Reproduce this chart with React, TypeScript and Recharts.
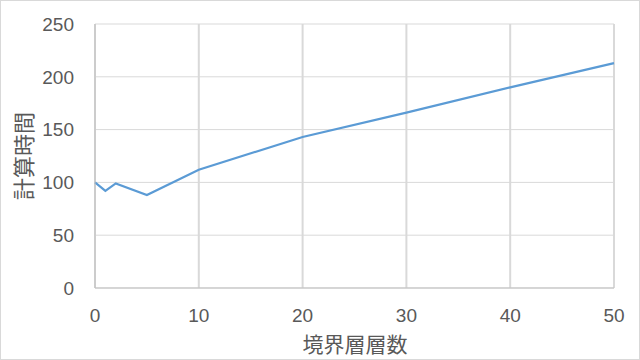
import React from "react";
import {
  LineChart,
  Line,
  XAxis,
  YAxis,
  CartesianGrid,
} from "recharts";

const layers = [0, 1, 2, 5, 10, 20, 30, 40, 50];
const times = [100, 92, 99, 88, 112, 143, 166, 190, 213];
const xTicks = [0, 10, 20, 30, 40, 50];
const yTicks = [0, 50, 100, 150, 200, 250];

const data = layers.map((x, i) => ({ x, t: times[i] }));

const textColor = "#595959";
const numFont = "'Liberation Sans', sans-serif";
const jpFont = "'Noto Sans CJK JP', sans-serif";

export default function App() {
  return (
    <div
      style={{
        position: "absolute",
        left: 0,
        top: 0,
        width: 640,
        height: 360,
        boxSizing: "border-box",
        border: "1px solid #d9d9d9",
        background: "#fff",
      }}
    >
      <div style={{ position: "absolute", left: -1, top: -1 }}>
        <LineChart
          width={640}
          height={360}
          data={data}
          margin={{ top: 24, right: 26, left: 0, bottom: 0 }}
        >
          <CartesianGrid
            horizontal={true}
            vertical={false}
            stroke="#d9d9d9"
            strokeWidth={1}
          />
          <CartesianGrid
            horizontal={false}
            vertical={true}
            stroke="#d9d9d9"
            strokeWidth={2}
          />
          <XAxis
            dataKey="x"
            type="number"
            domain={[0, 50]}
            ticks={xTicks}
            height={72}
            tickLine={false}
            tickSize={0}
            tickMargin={21}
            stroke="#bfbfbf"
            tick={{ fill: textColor, fontSize: 19, fontFamily: numFont }}
            label={{
              content: () => (
                <text
                  x={355}
                  y={343}
                  textAnchor="middle"
                  dominantBaseline="central"
                  fill={textColor}
                  fontSize={21}
                  fontFamily={jpFont}
                >
                  境界層層数
                </text>
              ),
            }}
          />
          <YAxis
            type="number"
            domain={[0, 250]}
            ticks={yTicks}
            width={95}
            tickLine={false}
            tickSize={0}
            tickMargin={21}
            stroke="#bfbfbf"
            tick={{ fill: textColor, fontSize: 19, fontFamily: numFont }}
            label={{
              content: () => (
                <text
                  x={22}
                  y={156}
                  transform="rotate(-90 22 156)"
                  textAnchor="middle"
                  dominantBaseline="central"
                  fill={textColor}
                  fontSize={22}
                  fontFamily={jpFont}
                >
                  計算時間
                </text>
              ),
            }}
          />
          <Line
            dataKey="t"
            stroke="#5b9bd5"
            strokeWidth={2.25}
            dot={false}
            isAnimationActive={false}
          />
        </LineChart>
      </div>
    </div>
  );
}
